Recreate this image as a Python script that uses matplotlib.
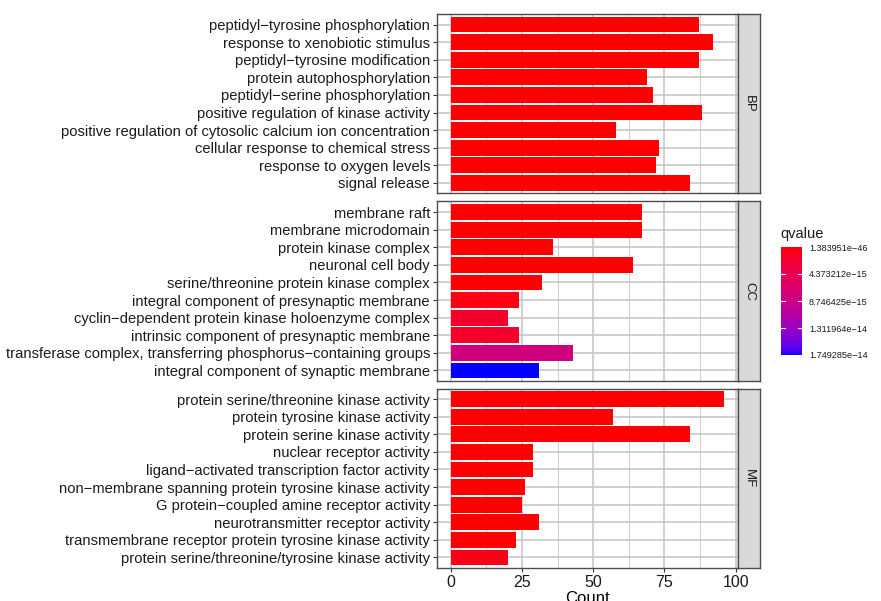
import numpy as np
import matplotlib
matplotlib.use("Agg")
import matplotlib.pyplot as plt
from matplotlib import font_manager
from matplotlib.colors import ListedColormap, Normalize
from matplotlib.cm import ScalarMappable

plt.rcParams['font.family'] = ['Liberation Sans', 'DejaVu Sans']

# ---- data ----
bp_terms = ["peptidyl\u2212tyrosine phosphorylation", "response to xenobiotic stimulus",
            "peptidyl\u2212tyrosine modification", "protein autophosphorylation",
            "peptidyl\u2212serine phosphorylation", "positive regulation of kinase activity",
            "positive regulation of cytosolic calcium ion concentration",
            "cellular response to chemical stress", "response to oxygen levels", "signal release"]
bp_count = [87, 92, 87, 69, 71, 88, 58, 73, 72, 84]
bp_q = [1.4e-46, 2e-40, 3e-40, 1e-30, 2e-25, 1e-24, 5e-22, 1e-20, 2e-20, 5e-20]

cc_terms = ["membrane raft", "membrane microdomain", "protein kinase complex",
            "neuronal cell body", "serine/threonine protein kinase complex",
            "integral component of presynaptic membrane",
            "cyclin\u2212dependent protein kinase holoenzyme complex",
            "intrinsic component of presynaptic membrane",
            "transferase complex, transferring phosphorus\u2212containing groups",
            "integral component of synaptic membrane"]
cc_count = [67, 67, 36, 64, 32, 24, 20, 24, 43, 31]
cc_q = [1e-20, 1e-20, 1e-18, 5e-18, 1e-17, 5.0e-16, 1.8e-15, 1.8e-15, 7.9e-15, 1.749285e-14]

mf_terms = ["protein serine/threonine kinase activity", "protein tyrosine kinase activity",
            "protein serine kinase activity", "nuclear receptor activity",
            "ligand\u2212activated transcription factor activity",
            "non\u2212membrane spanning protein tyrosine kinase activity",
            "G protein\u2212coupled amine receptor activity",
            "neurotransmitter receptor activity",
            "transmembrane receptor protein tyrosine kinase activity",
            "protein serine/threonine/tyrosine kinase activity"]
mf_count = [96, 57, 84, 29, 29, 26, 25, 31, 23, 20]
mf_q = [1e-40, 1e-30, 1e-28, 1e-20, 1e-20, 1e-19, 1e-18, 1e-18, 2e-17, 8.7e-16]

panels = ["BP", "CC", "MF"]
q_breaks = [1.383951e-46, 4.373212e-15, 8.746425e-15, 1.311964e-14, 1.749285e-14]
q_labels = ["1.383951e\u221246", "4.373212e\u221215", "8.746425e\u221215",
            "1.311964e\u221214", "1.749285e\u221214"]


# ---- red -> blue gradient interpolated in CIELAB (like ggplot) ----
def srgb_to_lab(rgb):
    rgb = np.asarray(rgb, float)
    lin = np.where(rgb <= 0.04045, rgb / 12.92, ((rgb + 0.055) / 1.055) ** 2.4)
    m = np.array([[0.4124, 0.3576, 0.1805], [0.2126, 0.7152, 0.0722], [0.0193, 0.1192, 0.9505]])
    xyz = m @ lin / np.array([0.95047, 1.0, 1.08883])
    f = np.where(xyz > 0.008856, np.cbrt(xyz), 7.787 * xyz + 16 / 116)
    return np.array([116 * f[1] - 16, 500 * (f[0] - f[1]), 200 * (f[1] - f[2])])


def lab_to_srgb(lab):
    L, a, b = lab
    fy = (L + 16) / 116
    fx = fy + a / 500
    fz = fy - b / 200
    f = np.array([fx, fy, fz])
    xyz = np.where(f ** 3 > 0.008856, f ** 3, (f - 16 / 116) / 7.787) * np.array([0.95047, 1.0, 1.08883])
    m = np.array([[3.2406, -1.5372, -0.4986], [-0.9689, 1.8758, 0.0415], [0.0557, -0.2040, 1.0570]])
    lin = m @ xyz
    rgb = np.where(lin <= 0.0031308, 12.92 * lin, 1.055 * np.clip(lin, 0, None) ** (1 / 2.4) - 0.055)
    return np.clip(rgb, 0, 1)


lab_lo = srgb_to_lab([1, 0, 0])
lab_hi = srgb_to_lab([0, 0, 1])
cmap = ListedColormap([lab_to_srgb(lab_lo + t * (lab_hi - lab_lo)) for t in np.linspace(0, 1, 256)])
norm = Normalize(vmin=q_breaks[0], vmax=q_breaks[-1])

# narrow face for the legend numbers if there is one
names = {f.name for f in font_manager.fontManager.ttflist}
if 'Liberation Sans Narrow' in names:
    leg_font, leg_size = ['Liberation Sans Narrow', 'DejaVu Sans'], 8.2
else:
    leg_font, leg_size = ['Liberation Sans', 'DejaVu Sans'], 6.6

# ---- figure ----
W, H = 881, 601
fig = plt.figure(figsize=(W / 100, H / 100), dpi=100)

px_left, px_right = 437, 738
tops = [14, 201.5, 388.5]
ph = 179.5

data = [(bp_terms, bp_count, bp_q), (cc_terms, cc_count, cc_q), (mf_terms, mf_count, mf_q)]
for (terms, counts, qs), top, name in zip(data, tops, panels):
    ax = fig.add_axes([px_left / W, 1 - (top + ph) / H, (px_right - px_left) / W, ph / H])
    y = np.arange(len(terms))
    ax.barh(y, counts, height=0.9, color=cmap(norm(np.array(qs))), zorder=3,
            edgecolor='none')
    ax.set_yticks(y)
    ax.set_yticklabels(terms, fontsize=10.6, color='#1a1a1a')
    ax.set_ylim(len(terms) - 0.4, -0.6)
    ax.set_xlim(-4.8, 100.8)
    ax.set_xticks([0, 25, 50, 75, 100])
    ax.set_xticks([12.5, 37.5, 62.5, 87.5], minor=True)
    ax.grid(True, which='major', color='#c4c4c4', lw=1.1, zorder=0)
    ax.grid(True, which='minor', axis='x', color='#d0d0d0', lw=0.8, zorder=0)
    ax.tick_params(axis='both', which='major', length=3, color='#333333', width=0.8, pad=2)
    ax.tick_params(axis='x', which='minor', length=0)
    for s in ax.spines.values():
        s.set_color('#4d4d4d')
        s.set_linewidth(1.0)
    if name != "MF":
        ax.tick_params(axis='x', labelbottom=False, length=0)
    else:
        ax.tick_params(axis='x', labelsize=11.5, labelcolor='#1a1a1a')
        ax.set_xlabel("Count", fontsize=12, labelpad=1)
    # facet strip
    sax = fig.add_axes([px_right / W, 1 - (top + ph) / H, 22 / W, ph / H])
    sax.set_facecolor('#d9d9d9')
    sax.set_xticks([])
    sax.set_yticks([])
    for s in sax.spines.values():
        s.set_color('#4d4d4d')
        s.set_linewidth(1.0)
    sax.text(0.5, 0.5, name, rotation=-90, ha='center', va='center', fontsize=9.5,
             color='#1a1a1a', transform=sax.transAxes)

# ---- colour legend ----
cax = fig.add_axes([781 / W, 1 - 355 / H, 21 / W, 108 / H])
cb = fig.colorbar(ScalarMappable(norm=norm, cmap=cmap), cax=cax)
cb.outline.set_visible(False)
cax.invert_yaxis()
cb.set_ticks(q_breaks)
cb.set_ticklabels(q_labels)
cax.tick_params(length=0, pad=5, colors='#1a1a1a')
for lab in cax.get_yticklabels():
    lab.set_family(leg_font)
    lab.set_fontsize(leg_size)
for t in q_breaks[1:-1]:
    cax.plot([0, 0.2], [t, t], color='white', lw=0.8, transform=cax.get_yaxis_transform())
    cax.plot([0.8, 1.0], [t, t], color='white', lw=0.8, transform=cax.get_yaxis_transform())
fig.text(780 / W, 1 - 234 / H, "qvalue", fontsize=10.5, ha='left', va='center', color='#1a1a1a')

fig.savefig("out.png", dpi=100)
